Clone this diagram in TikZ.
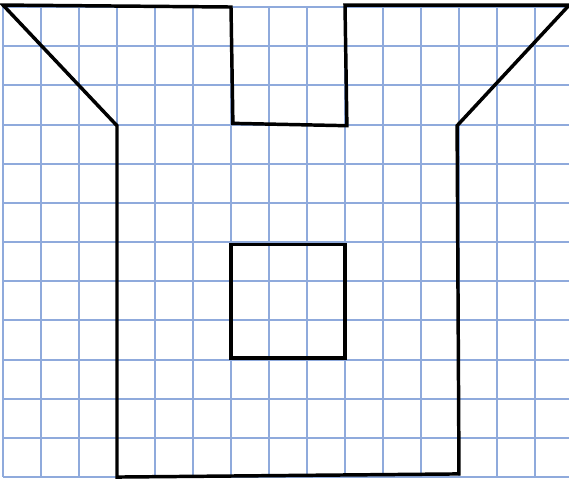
\documentclass[tikz,border=0pt]{standalone}
\usepackage{xcolor}
\definecolor{gridblue}{HTML}{8FAADC}
\tikzset{
    gridline/.style={draw=gridblue, line width=1.5pt},
    outline/.style={draw=black, line width=2.6pt}
}
\begin{document}
\begin{tikzpicture}[x=1cm, y=-1.0308cm]
                                \useasboundingbox (-0.079, -0.179) rectangle (14.895, 12.025);
                                \foreach \x in {0,...,14} {
                                    \draw[gridline] (\x, 0) -- (\x, 12);
                                }
                                \foreach \y in {0,...,12} {
                                    \draw[gridline] (0, \y) -- (14.895, \y);
                                }
                                % outer shape
                                \draw[outline] (0, -0.05) -- (3, 3.03) -- (3, 12) -- (12, 11.92)
                                    -- (11.95, 3.03) -- (14.9, -0.05) -- (9, -0.05) -- (9.05, 3.03)
                                    -- (6.05, 2.97) -- (6, 0) -- cycle;
                                % inner square
                                \draw[outline] (6, 6.06) -- (6, 8.96) -- (9, 8.96) -- (9, 6.06) -- cycle;
                            \end{tikzpicture}
\end{document}
